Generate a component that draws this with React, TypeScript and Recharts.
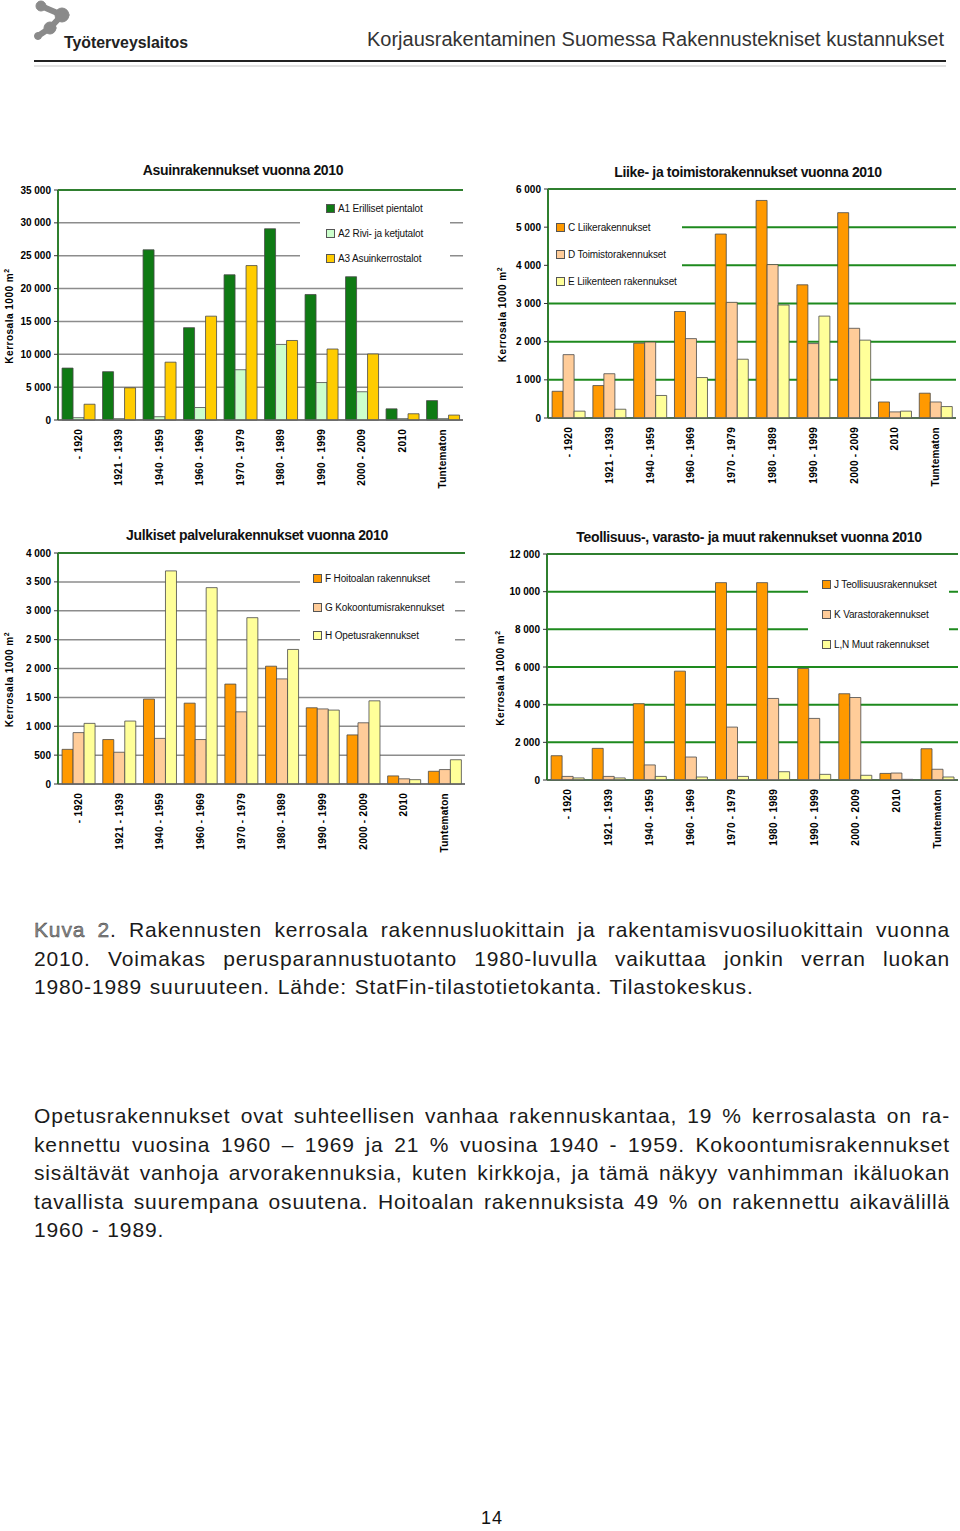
import React from 'react';
import { BarChart, Bar, XAxis, YAxis, CartesianGrid, Legend, ReferenceLine } from 'recharts';

const CATEGORIES = ['- 1920', '1921 - 1939', '1940 - 1959', '1960 - 1969', '1970 - 1979', '1980 - 1989', '1990 - 1999', '2000 - 2009', '2010', 'Tuntematon'];

// Asuinrakennukset
const ASUIN_A1 = [7900, 7350, 25900, 14050, 22100, 29100, 19100, 21800, 1700, 2950];
const ASUIN_A2 = [350, 200, 500, 1900, 7650, 11500, 5700, 4300, 200, 200];
const ASUIN_A3 = [2400, 4900, 8800, 15800, 23500, 12100, 10800, 10050, 950, 750];
const ASUIN_TICKS = [0, 5000, 10000, 15000, 20000, 25000, 30000, 35000];

// Liike- ja toimistorakennukset
const LIIKE_C = [700, 850, 1960, 2790, 4820, 5700, 3490, 5380, 420, 650];
const LIIKE_D = [1660, 1160, 1990, 2080, 3030, 4020, 1950, 2350, 160, 420];
const LIIKE_E = [180, 230, 590, 1060, 1540, 2960, 2670, 2040, 180, 300];
const LIIKE_TICKS = [0, 1000, 2000, 3000, 4000, 5000, 6000];

// Julkiset palvelurakennukset
const JULK_F = [600, 770, 1470, 1400, 1730, 2040, 1320, 850, 140, 220];
const JULK_G = [890, 550, 790, 770, 1250, 1820, 1300, 1060, 90, 250];
const JULK_H = [1050, 1090, 3690, 3400, 2880, 2330, 1280, 1440, 75, 420];
const JULK_TICKS = [0, 500, 1000, 1500, 2000, 2500, 3000, 3500, 4000];

// Teollisuus-, varasto- ja muut
const TEOL_J = [1290, 1680, 4050, 5780, 10480, 10480, 5920, 4580, 350, 1660];
const TEOL_K = [190, 190, 800, 1220, 2810, 4330, 3270, 4380, 370, 570];
const TEOL_L = [110, 110, 190, 160, 190, 440, 300, 250, 35, 160];
const TEOL_TICKS = [0, 2000, 4000, 6000, 8000, 10000, 12000];

const ORANGE = '#ff9900';
const PEACH = '#ffcc99';
const PALE = '#ffff99';
const FRAME = '#2f7f2f';
const SANS = 'Liberation Sans, Arial, sans-serif';

const fmt = (v: number) => String(v).replace(/\B(?=(\d{3})+(?!\d))/g, ' ');

type Series = { name: string; values: number[]; color: string };

const XTick = (props: any) => {
  const { x, y, payload } = props;
  return (
    <g transform={`translate(${x},${y + 1})`}>
      <text transform="rotate(-90)" textAnchor="end" dy="0.35em" fontSize={10} fontWeight="bold"
        letterSpacing={0.3} fill="#000" fontFamily={SANS}>
        {payload.value}
      </text>
    </g>
  );
};

const YLabel = (props: any) => {
  const { viewBox, dx } = props;
  const cx = viewBox.x + dx;
  const cy = viewBox.y + viewBox.height / 2 + 11;
  return (
    <text transform={`rotate(-90, ${cx}, ${cy})`} x={cx} y={cy} textAnchor="middle" dy="0.35em"
      fontSize={10} fontWeight="bold" letterSpacing={0.5} fill="#000" fontFamily={SANS}>
      Kerrosala 1000 m<tspan dy={-4} fontSize={7}>2</tspan>
    </text>
  );
};

type ChartProps = {
  left: number; top: number; title: string; titleX: number; titleY: number;
  series: Series[]; ticks: number[]; grid: string; gridWidth: number;
  margin: { top: number; right: number }; yWidth: number; xHeight: number; labelDx: number;
  legendBox: { left: number; top: number; width: number; height: number };
  legendItems: number[]; swatchX: number;
};

function BuildingChart(p: ChartProps) {
  const rows = CATEGORIES.map((c, i) => {
    const r: any = { name: c };
    p.series.forEach((s) => { r[s.name] = s.values[i]; });
    return r;
  });
  const max = p.ticks[p.ticks.length - 1];
  const legendContent = () => (
    <div style={{ position: 'relative', width: '100%', height: '100%', background: '#fff' }}>
      {p.series.map((s, i) => (
        <div key={s.name} style={{ position: 'absolute', left: p.swatchX, top: p.legendItems[i] - 7, height: 14,
          display: 'flex', alignItems: 'center', whiteSpace: 'nowrap', fontSize: 10, color: '#111',
          letterSpacing: -0.15, fontFamily: SANS }}>
          <span style={{ display: 'inline-block', width: 7, height: 7, background: s.color, border: '1px solid #555', marginRight: 3 }} />
          <span>{s.name}</span>
        </div>
      ))}
    </div>
  );
  return (
    <div style={{ position: 'absolute', left: p.left, top: p.top, width: 470, height: 345 }}>
      <div style={{ position: 'absolute', left: p.titleX - 200, top: p.titleY - 9, width: 400, textAlign: 'center',
        fontSize: 14, fontWeight: 'bold', color: '#111', whiteSpace: 'nowrap', letterSpacing: -0.35,
        fontFamily: SANS, lineHeight: '18px' }}>
        {p.title}
      </div>
      <BarChart width={470} height={345} data={rows} barGap={0} barCategoryGap="10%"
        margin={{ top: p.margin.top, right: p.margin.right, left: 0, bottom: 15 }}>
        <CartesianGrid vertical={false} stroke={p.grid} strokeWidth={p.gridWidth} />
        <XAxis dataKey="name" interval={0} height={p.xHeight} tick={<XTick />} tickLine={false}
          axisLine={{ stroke: '#666', strokeWidth: 1.5 }} />
        <YAxis width={p.yWidth} domain={[0, max]} ticks={p.ticks} tickFormatter={fmt} interval={0}
          tick={{ fontSize: 10, fontWeight: 'bold', fill: '#000', fontFamily: SANS }}
          tickSize={4} tickMargin={3} tickLine={{ stroke: '#333' }} axisLine={{ stroke: FRAME, strokeWidth: 2 }}
          label={<YLabel dx={p.labelDx} />} />
        <YAxis yAxisId="frame" orientation="right" width={0} tick={false} tickLine={false}
          axisLine={{ stroke: FRAME, strokeWidth: 2 }} />
        <ReferenceLine y={max} stroke={FRAME} strokeWidth={2} />
        {p.series.map((s) => (
          <Bar key={s.name} dataKey={s.name} fill={s.color} stroke="#4a4a4a" strokeWidth={0.8} isAnimationActive={false} />
        ))}
        <Legend layout="vertical" align="center" verticalAlign="middle" content={legendContent}
          wrapperStyle={{ left: p.legendBox.left, top: p.legendBox.top, width: p.legendBox.width, height: p.legendBox.height, background: '#fff' }} />
      </BarChart>
    </div>
  );
}

const CAPTION = [
  'Rakennusten kerrosala rakennusluokittain ja rakentamisvuosiluokittain vuonna',
  '2010. Voimakas perusparannustuotanto 1980-luvulla vaikuttaa jonkin verran luokan',
  '1980-1989 suuruuteen. Lähde: StatFin-tilastotietokanta. Tilastokeskus.',
];
const BODY = [
  'Opetusrakennukset ovat suhteellisen vanhaa rakennuskantaa, 19 % kerrosalasta on ra-',
  'kennettu vuosina 1960 – 1969 ja 21 % vuosina 1940 - 1959. Kokoontumisrakennukset',
  'sisältävät vanhoja arvorakennuksia, kuten kirkkoja, ja tämä näkyy vanhimman ikäluokan',
  'tavallista suurempana osuutena. Hoitoalan rakennuksista 49 % on rakennettu aikavälillä',
  '1960 - 1989.',
];

function Line({ top, text, last, children }: any) {
  return (
    <div style={{ position: 'absolute', left: 34, top, width: 916, fontSize: 21, lineHeight: '28px',
      fontFamily: SANS, color: '#1a1a1a', letterSpacing: 0.85, wordSpacing: 1,
      textAlign: last ? 'left' : 'justify', textAlignLast: last ? 'left' : 'justify', whiteSpace: 'nowrap' } as any}>
      {children}{text}
    </div>
  );
}

export default function App() {
  const common = { grid: '#8c8c8c', gridWidth: 1.5 };
  return (
    <div style={{ position: 'absolute', left: 0, top: 0, width: 960, height: 1531, background: '#fff', overflow: 'hidden' }}>
      {/* header */}
      <svg style={{ position: 'absolute', left: 0, top: 0 }} width={200} height={55}>
        <g fill="#8a8a8a" stroke="#8a8a8a" strokeLinecap="round">
          <circle cx={41} cy={6} r={5} />
          <circle cx={62} cy={15} r={7} />
          <circle cx={50} cy={28} r={6} />
          <circle cx={38} cy={36} r={3.5} />
          <path d="M41 6 L55 12 L62 15 L50 28 L38 36" fill="none" strokeWidth={6} />
        </g>
        <text x={64} y={48} fontSize={17} fontWeight="bold" fill="#222" fontFamily={SANS}
          textLength={124} lengthAdjust="spacingAndGlyphs">Työterveyslaitos</text>
      </svg>
      <div style={{ position: 'absolute', right: 16, top: 28, fontSize: 20, color: '#333', fontFamily: SANS,
        letterSpacing: 0, whiteSpace: 'nowrap' }}>
        Korjausrakentaminen Suomessa Rakennustekniset kustannukset
      </div>
      <div style={{ position: 'absolute', left: 34, top: 60, width: 912, height: 2, background: '#222' }} />
      <div style={{ position: 'absolute', left: 34, top: 65, width: 912, height: 2, background: '#e2e2e2' }} />

      <BuildingChart left={0} top={160} title="Asuinrakennukset vuonna 2010" titleX={243} titleY={10}
        series={[{ name: 'A1 Erilliset pientalot', values: ASUIN_A1, color: '#0f7a14' },
          { name: 'A2 Rivi- ja ketjutalot', values: ASUIN_A2, color: '#ccffcc' },
          { name: 'A3 Asuinkerrostalot', values: ASUIN_A3, color: '#ffcc00' }]}
        ticks={ASUIN_TICKS} {...common} margin={{ top: 30, right: 7 }} yWidth={58} xHeight={70} labelDx={9}
        legendBox={{ left: 300, top: 35, width: 150, height: 77 }} legendItems={[13, 38, 63]} swatchX={26} />

      <BuildingChart left={490} top={160} title="Liike- ja toimistorakennukset vuonna 2010" titleX={258} titleY={12}
        series={[{ name: 'C Liikerakennukset', values: LIIKE_C, color: ORANGE },
          { name: 'D Toimistorakennukset', values: LIIKE_D, color: PEACH },
          { name: 'E Liikenteen rakennukset', values: LIIKE_E, color: PALE }]}
        ticks={LIIKE_TICKS} grid="#1e8a1e" gridWidth={2} margin={{ top: 29, right: 4 }} yWidth={58} xHeight={72} labelDx={12}
        legendBox={{ left: 59, top: 45, width: 133, height: 90 }} legendItems={[22, 49, 76]} swatchX={7} />

      <BuildingChart left={0} top={525} title="Julkiset palvelurakennukset vuonna 2010" titleX={257} titleY={10}
        series={[{ name: 'F Hoitoalan rakennukset', values: JULK_F, color: ORANGE },
          { name: 'G Kokoontumisrakennukset', values: JULK_G, color: PEACH },
          { name: 'H Opetusrakennukset', values: JULK_H, color: PALE }]}
        ticks={JULK_TICKS} {...common} margin={{ top: 28, right: 5 }} yWidth={58} xHeight={71} labelDx={9}
        legendBox={{ left: 300, top: 35, width: 155, height: 95 }} legendItems={[18, 47, 75]} swatchX={13} />

      <BuildingChart left={490} top={525} title="Teollisuus-, varasto- ja muut rakennukset vuonna 2010" titleX={259} titleY={12}
        series={[{ name: 'J Teollisuusrakennukset', values: TEOL_J, color: ORANGE },
          { name: 'K Varastorakennukset', values: TEOL_K, color: PEACH },
          { name: 'L,N Muut rakennukset', values: TEOL_L, color: PALE }]}
        ticks={TEOL_TICKS} grid="#1e8a1e" gridWidth={2} margin={{ top: 29, right: 2 }} yWidth={57} xHeight={75} labelDx={10}
        legendBox={{ left: 318, top: 45, width: 141, height: 90 }} legendItems={[14, 44, 74]} swatchX={14} />

      {CAPTION.map((t, i) => (
        <Line key={t} top={916 + i * 28.5} text={t} last={i === CAPTION.length - 1}>
          {i === 0 ? <span style={{ color: '#8a8a8a', WebkitTextStroke: '0.4px #333' } as any}>Kuva 2</span> : null}
          {i === 0 ? '. ' : null}
        </Line>
      ))}
      {BODY.map((t, i) => (
        <Line key={t} top={1102 + i * 28.6} text={t} last={i === BODY.length - 1} />
      ))}
      <div style={{ position: 'absolute', left: 472, top: 1508, width: 40, textAlign: 'center', fontSize: 18,
        fontFamily: SANS, color: '#111', letterSpacing: 1 }}>14</div>
    </div>
  );
}
